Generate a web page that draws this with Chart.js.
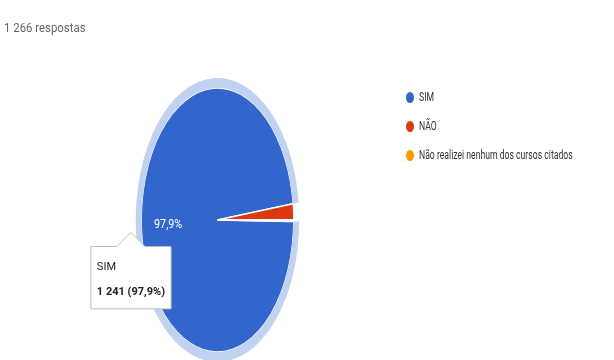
<!DOCTYPE html>
<html>
<head>
<meta charset="utf-8">
<script src="https://cdn.jsdelivr.net/npm/chart.js@4"></script>
<style>
  html, body { margin: 0; padding: 0; background: #fff; }
  body { width: 614px; height: 360px; overflow: hidden; position: relative; font-family: Roboto, Arial, sans-serif; }
  #chart { position: absolute; left: 0; top: 0; }
  .respostas { position: absolute; left: 4px; top: 21px; font-size: 12px; line-height: 14px; color: #666; white-space: nowrap;
               transform: scaleX(0.95); transform-origin: 0 0; }
  .legend { position: absolute; left: 406px; top: 90px; }
  .legend-item { position: relative; height: 29px; white-space: nowrap; }
  .legend-dot { position: absolute; left: 0; top: 2px; width: 8px; height: 11px; border-radius: 50%; }
  .legend-text { position: absolute; left: 13px; top: 0; font-size: 12px; line-height: 15px; color: #333;
                 transform: scaleX(0.72); transform-origin: 0 0; }
</style>
</head>
<body>
<canvas id="chart" width="614" height="362"></canvas>
<div class="respostas" id="respostas"></div>
<div class="legend" id="legend"></div>

<script>
// chart data
const categories = ['SIM', 'NÃO', 'Não realizei nenhum dos cursos citados'];
const counts = [1241, 25, 2];
const sliceColors = ['#3366cc', '#dc3912', '#ff9900'];
const totalRespostas = 1266;

// the reference pie is squashed horizontally into an ellipse
const SQUISH_X = 0.576;

function formatThousands(n) {
    return n.toString().replace(/\B(?=(\d{3})+(?!\d))/g, ' ');
}

function formatPercent(v) {
    return (v * 100).toFixed(1).replace('.', ',') + '%';
}

const total = counts.reduce((a, b) => a + b, 0);

// header text
document.getElementById('respostas').textContent = formatThousands(totalRespostas) + ' respostas';

// legend
const legendEl = document.getElementById('legend');
categories.forEach((label, i) => {
    const item = document.createElement('div');
    item.className = 'legend-item';
    const dot = document.createElement('div');
    dot.className = 'legend-dot';
    dot.style.background = sliceColors[i];
    const text = document.createElement('div');
    text.className = 'legend-text';
    text.textContent = label;
    item.appendChild(dot);
    item.appendChild(text);
    legendEl.appendChild(item);
});

// squash the pie horizontally around its centre, then write slice labels
const squishPlugin = {
    id: 'squish',
    beforeDatasetsDraw(chart) {
        const ctx = chart.ctx;
        const cx = (chart.chartArea.left + chart.chartArea.right) / 2;
        ctx.save();
        ctx.translate(cx, 0);
        ctx.scale(SQUISH_X, 1);
        ctx.translate(-cx, 0);
    },
    afterDatasetsDraw(chart) {
        const ctx = chart.ctx;
        ctx.restore();

        // percentage labels inside big slices
        const meta = chart.getDatasetMeta(1);
        meta.data.forEach((arc, i) => {
            const share = counts[i] / total;
            if (share < 0.05) return;
            const p = arc.getProps(['x', 'y', 'startAngle', 'endAngle', 'outerRadius']);
            const mid = (p.startAngle + p.endAngle) / 2;
            const r = p.outerRadius * 0.65;
            const x = p.x + Math.cos(mid) * r * SQUISH_X;
            const y = p.y + Math.sin(mid) * r;
            ctx.save();
            ctx.translate(x, y);
            ctx.scale(0.9, 1);
            ctx.fillStyle = '#ffffff';
            ctx.font = '12px Roboto, Arial, sans-serif';
            ctx.textAlign = 'center';
            ctx.textBaseline = 'middle';
            ctx.fillText(formatPercent(share), 0, 0);
            ctx.restore();
        });
    }
};

// tooltip anchored just outside the hovered slice, on its mid angle
Chart.Tooltip.positioners.sliceEdge = function(elements) {
    if (!elements.length) return false;
    const arc = elements[0].element;
    const p = arc.getProps(['x', 'y', 'startAngle', 'endAngle', 'outerRadius']);
    const mid = (p.startAngle + p.endAngle) / 2;
    const r = p.outerRadius * 1.14;
    return {
        x: p.x + Math.cos(mid) * r * SQUISH_X,
        y: p.y + Math.sin(mid) * r
    };
};

const ctx = document.getElementById('chart').getContext('2d');

const chart = new Chart(ctx, {
    type: 'pie',
    data: {
        labels: categories,
        datasets: [
            {
                // hover highlight ring round the active slice
                label: 'highlight',
                data: counts,
                weight: 10,
                backgroundColor: sliceColors.map((c, i) => i === 0 ? 'rgba(51, 102, 204, 0.3)' : 'rgba(0,0,0,0)'),
                hoverBackgroundColor: sliceColors.map((c, i) => i === 0 ? 'rgba(51, 102, 204, 0.3)' : 'rgba(0,0,0,0)'),
                borderWidth: 0,
                hoverBorderWidth: 0,
                hoverOffset: 0
            },
            {
                label: 'Respostas',
                data: counts,
                weight: 132,
                backgroundColor: sliceColors,
                hoverBackgroundColor: sliceColors,
                borderColor: '#ffffff',
                hoverBorderColor: '#ffffff',
                borderWidth: 1.5,
                hoverBorderWidth: 1.5,
                hoverOffset: 0
            }
        ]
    },
    options: {
        responsive: false,
        animation: false,
        rotation: 90.6,
        radius: 142,
        layout: {
            padding: { left: 76, right: 255, top: 78, bottom: 0 }
        },
        events: [],
        plugins: {
            legend: { display: false },
            tooltip: {
                enabled: true,
                position: 'sliceEdge',
                filter: item => item.datasetIndex === 1,
                xAlign: 'center',
                yAlign: 'top',
                caretSize: 14,
                caretPadding: 4,
                cornerRadius: 0,
                backgroundColor: '#ffffff',
                borderColor: '#bdbdbd',
                borderWidth: 1,
                titleColor: '#222222',
                bodyColor: '#222222',
                titleFont: { family: 'Roboto, Arial, sans-serif', size: 11, weight: 'normal' },
                bodyFont: { family: 'Roboto, Arial, sans-serif', size: 11, weight: 'bold' },
                titleMarginBottom: 12,
                padding: { top: 14, bottom: 10, left: 6, right: 6 },
                displayColors: false,
                callbacks: {
                    title: items => items.length ? categories[items[0].dataIndex] : '',
                    label: item => formatThousands(counts[item.dataIndex]) + ' (' + formatPercent(counts[item.dataIndex] / total) + ')'
                }
            }
        }
    },
    plugins: [squishPlugin]
});

// show the tooltip for the SIM slice, as in the reference
chart.tooltip.setActiveElements([{ datasetIndex: 1, index: 0 }], { x: 0, y: 0 });
chart.update();
</script>
</body>
</html>
